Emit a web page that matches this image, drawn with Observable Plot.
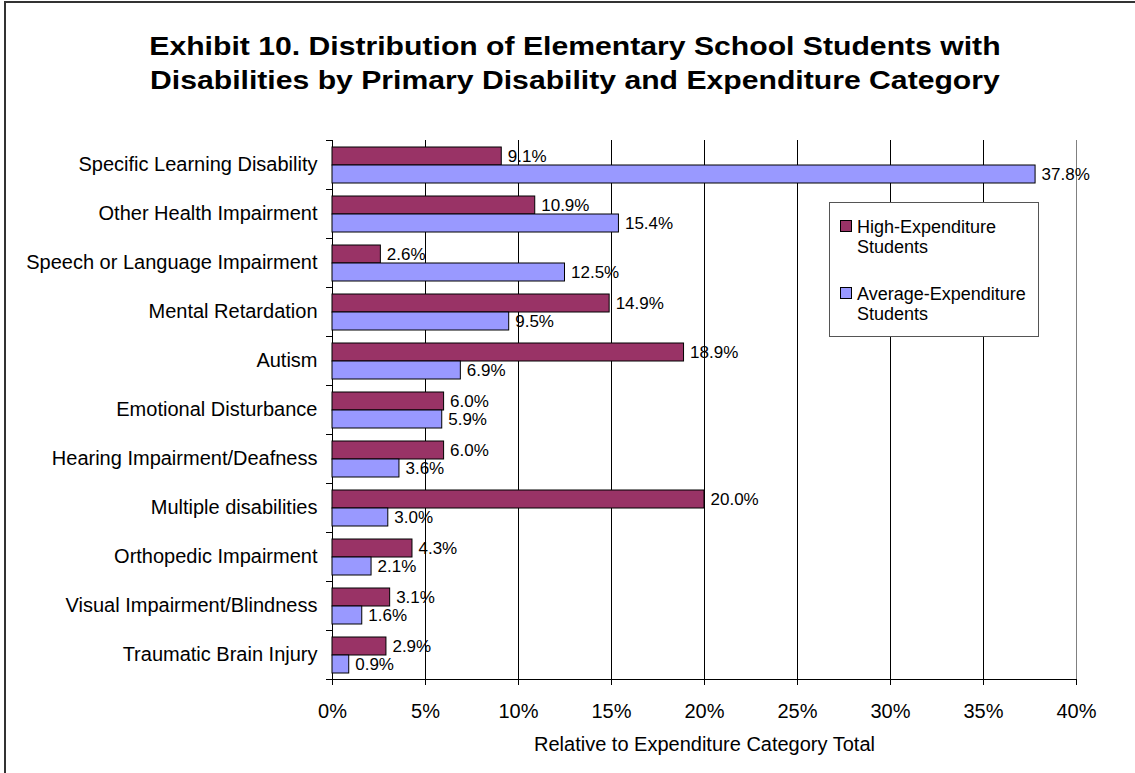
<!DOCTYPE html>
<html>
<head>
<meta charset="utf-8">
<script src="https://cdn.jsdelivr.net/npm/d3@7"></script>
<script src="https://cdn.jsdelivr.net/npm/@observablehq/plot@0.6"></script>
<style>
  body { margin: 0; background: #fff; font-family: "Liberation Sans", Arial, sans-serif; }
  #wrap { position: relative; width: 1135px; height: 773px; overflow: hidden; background: #fff; }
  #frame { position: absolute; left: 4px; top: 1px; width: 1300px; height: 900px; border-left: 2px solid #333; border-top: 2px solid #333; pointer-events: none; }
  #title { height: 100px; box-sizing: border-box; padding-top: 29px; padding-left: 15px; text-align: center; font-weight: bold; font-size: 26px; line-height: 34px; color: #000; }
  #title span { display: inline-block; transform: scaleX(1.16); transform-origin: center; }
  #chart svg { display: block; }
  #legend { position: absolute; left: 829px; top: 202px; width: 210px; height: 135px; box-sizing: border-box; border: 1px solid #555; background: #fff; font-size: 18px; line-height: 20px; color: #000; }
  #legend .item { position: absolute; left: 27px; white-space: nowrap; }
  #legend .sw { position: absolute; left: 10px; width: 10px; height: 10px; border: 1px solid #000; }
</style>
</head>
<body>
<div id="wrap">
  <div id="title"><span>Exhibit 10. Distribution of Elementary School Students with<br>Disabilities by Primary Disability and Expenditure Category</span></div>
  <div id="chart"></div>
  <div id="legend"></div>
  <div id="frame"></div>
</div>
<script>
const categories = [
  "Specific Learning Disability",
  "Other Health Impairment",
  "Speech or Language Impairment",
  "Mental Retardation",
  "Autism",
  "Emotional Disturbance",
  "Hearing Impairment/Deafness",
  "Multiple disabilities",
  "Orthopedic Impairment",
  "Visual Impairment/Blindness",
  "Traumatic Brain Injury"
];
const highValues = [9.1, 10.9, 2.6, 14.9, 18.9, 6.0, 6.0, 20.0, 4.3, 3.1, 2.9];
const avgValues  = [37.8, 15.4, 12.5, 9.5, 6.9, 5.9, 3.6, 3.0, 2.1, 1.6, 0.9];
const seriesNames = ["High-Expenditure Students", "Average-Expenditure Students"];
const seriesColors = ["#993366", "#9999FF"];
const xTicks = [0, 5, 10, 15, 20, 25, 30, 35, 40];
const xLabel = "Relative to Expenditure Category Total";

const data = categories.flatMap((c, i) => [
  {category: c, series: seriesNames[0], value: highValues[i]},
  {category: c, series: seriesNames[1], value: avgValues[i]}
]);

const W = 1135, H = 673, ml = 332, mr = 59, mt = 38, mb = 92;
const plotW = W - ml - mr;
const font = '"Liberation Sans", Arial, sans-serif';

const chart = Plot.plot({
  width: W, height: H,
  marginLeft: ml, marginRight: mr, marginTop: mt, marginBottom: mb,
  style: {fontFamily: font, fontSize: "20px", color: "#000", background: "transparent"},
  x: {domain: [0, 40], axis: null},
  y: {domain: seriesNames, axis: null, paddingInner: 0, paddingOuter: 0.33},
  fy: {domain: categories, padding: 0, axis: null},
  color: {domain: seriesNames, range: seriesColors},
  marks: [
    Plot.gridX(xTicks.filter(t => t > 0 && t < 40), {stroke: "#000", strokeOpacity: 1}),
    Plot.ruleX([40], {stroke: "#808080", strokeOpacity: 1}),
    Plot.frame({anchor: "top", insetLeft: -6, insetRight: plotW, stroke: "#000"}),
    Plot.frame({anchor: "bottom", insetLeft: -6, stroke: "#000", fy: [categories[categories.length - 1]]}),
    Plot.ruleX([0], {stroke: "#000", strokeOpacity: 1}),
    Plot.barX(data, {x: "value", y: "series", fy: "category", fill: "series", stroke: "#000", strokeWidth: 1}),
    Plot.text(data, {x: "value", y: "series", fy: "category", text: d => d.value.toFixed(1) + "%", textAnchor: "start", dx: 6, fontSize: 17, fill: "#000"}),
    Plot.axisFy({anchor: "left", tickSize: 0, tickPadding: 15, fontSize: 20, label: null}),
    Plot.axisX(xTicks, {anchor: "bottom", tickSize: 6, tickPadding: 18, tickFormat: d => d + "%", fontSize: 20, stroke: "#000", strokeOpacity: 1,
      label: xLabel, labelAnchor: "center", labelOffset: 71, labelArrow: "none"})
  ]
});
document.getElementById("chart").appendChild(chart);

// legend
const legend = document.getElementById("legend");
const itemTops = [14, 81];
seriesNames.forEach((name, i) => {
  const sw = document.createElement("div");
  sw.className = "sw";
  sw.style.top = (itemTops[i] + 3) + "px";
  sw.style.background = seriesColors[i];
  legend.appendChild(sw);
  const it = document.createElement("div");
  it.className = "item";
  it.style.top = itemTops[i] + "px";
  const k = name.lastIndexOf(" ");
  it.innerHTML = name.slice(0, k) + "<br>" + name.slice(k + 1);
  legend.appendChild(it);
});
</script>
</body>
</html>
